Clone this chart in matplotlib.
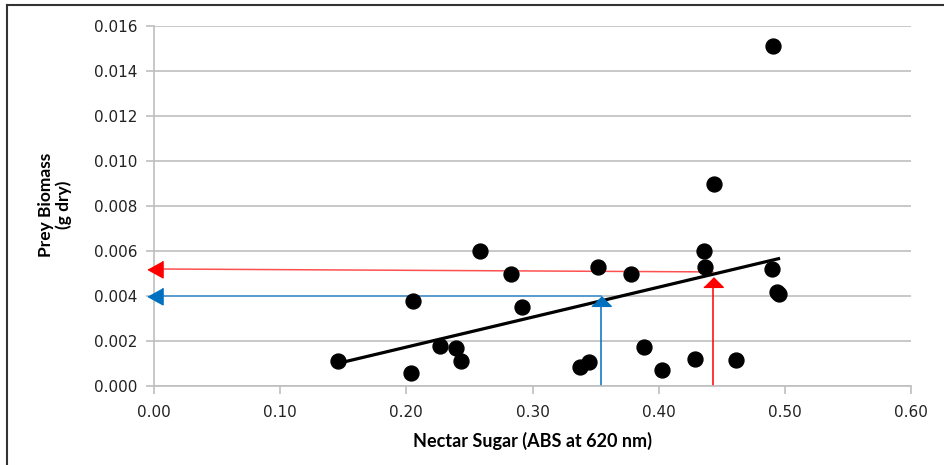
import numpy as np
import matplotlib
matplotlib.use("Agg")
import matplotlib.pyplot as plt
from matplotlib.lines import Line2D

# nectar sugar (ABS at 620 nm) vs prey biomass (g dry)
sugar = [0.146, 0.204, 0.205, 0.227, 0.239, 0.243, 0.258, 0.283, 0.292, 0.338,
         0.345, 0.352, 0.378, 0.388, 0.403, 0.429, 0.436, 0.437, 0.444, 0.461,
         0.490, 0.491, 0.494, 0.495]
biomass = [0.00111, 0.00058, 0.0038, 0.0018, 0.0017, 0.0011, 0.0060, 0.0050, 0.0035, 0.00084,
           0.00105, 0.0053, 0.0050, 0.00175, 0.0007, 0.0012, 0.0060, 0.0053, 0.0090, 0.00115,
           0.0052, 0.0151, 0.0042, 0.0041]

# reading guides (x, y where guide meets axis)
red_x, red_y_right, red_y_left = 0.443, 0.00507, 0.0052
blue_x, blue_y = 0.354, 0.0040

xticks = [0.0, 0.1, 0.2, 0.3, 0.4, 0.5, 0.6]
yticks = [0.0, 0.002, 0.004, 0.006, 0.008, 0.010, 0.012, 0.014, 0.016]

RED = "#FF0000"
BLUE = "#0070C0"
GRID = "#BFBFBF"

fig = plt.figure(figsize=(9.44, 4.65), dpi=100)
ax = fig.add_axes([154/944, 1-386/465, (911-154)/944, (386-26)/465])

ax.set_xlim(0, 0.6)
ax.set_ylim(0, 0.016)
ax.set_xticks(xticks)
ax.set_yticks(yticks)
ax.set_xticklabels(["%.2f" % v for v in xticks])
ax.set_yticklabels(["%.3f" % v for v in yticks])
ax.yaxis.grid(True, color=GRID, lw=1.2)
ax.set_axisbelow(True)
for s in ["top", "right"]:
    ax.spines[s].set_visible(False)
for s in ["left", "bottom"]:
    ax.spines[s].set_color(GRID)
    ax.spines[s].set_linewidth(1.2)
ax.tick_params(axis="both", color=GRID, width=1.2, length=6, labelsize=11,
               labelcolor="#222222")
ax.tick_params(axis="x", pad=8)
ax.tick_params(axis="y", pad=6)

# guide lines
ax.plot([red_x, red_x], [0, 0.0044], color=RED, lw=1.1, zorder=2)
ax.plot([red_x, 0.005], [red_y_right, red_y_left], color="#FF5050", lw=1.1, zorder=2)
ax.plot([blue_x, blue_x], [0, 0.00356], color=BLUE, lw=1.1, zorder=2)
ax.plot([blue_x, 0.005], [blue_y, blue_y], color="#3D8FD0", lw=1.1, zorder=2)

up_tri = [(-1, -0.5), (1, -0.5), (0, 0.5)]
left_tri = [(0.5, 0.55), (0.5, -0.55), (-0.5, 0)]
ax.plot([red_x], [0.00462], marker=up_tri, ms=14, color=RED, mec=RED, zorder=4)
ax.plot([blue_x], [0.00376], marker=up_tri, ms=14, color=BLUE, mec=BLUE, zorder=4)
ax.plot([0.0008], [red_y_left], marker=left_tri, ms=12, color=RED, mec=RED,
        zorder=4, clip_on=False)
ax.plot([0.0008], [blue_y], marker=left_tri, ms=12, color=BLUE, mec=BLUE,
        zorder=4, clip_on=False)

ax.scatter(sugar, biomass, s=115, color="black", zorder=5)

# linear trendline
m, b = np.polyfit(sugar, biomass, 1)
tx = np.array([min(sugar), max(sugar)])
ax.plot(tx, m * tx + b, color="black", lw=2.3, zorder=3)

ax.set_xlabel("Nectar Sugar (ABS at 620 nm)", family="Lato", fontweight="bold",
              fontsize=13, labelpad=8)
fig.text(55/944, 1-205/465, "Prey Biomass\n(g dry)", rotation=90, ha="center",
         va="center", family="Lato", fontweight="bold", fontsize=12.5,
         linespacing=1.15)

# chart border (left and top edges visible)
fig.add_artist(Line2D([7/944, 7/944], [0, 1-5/465], color="#333333", lw=1.5))
fig.add_artist(Line2D([7/944, 1], [1-5/465, 1-5/465], color="#333333", lw=1.5))

fig.savefig("out.png", dpi=100)
